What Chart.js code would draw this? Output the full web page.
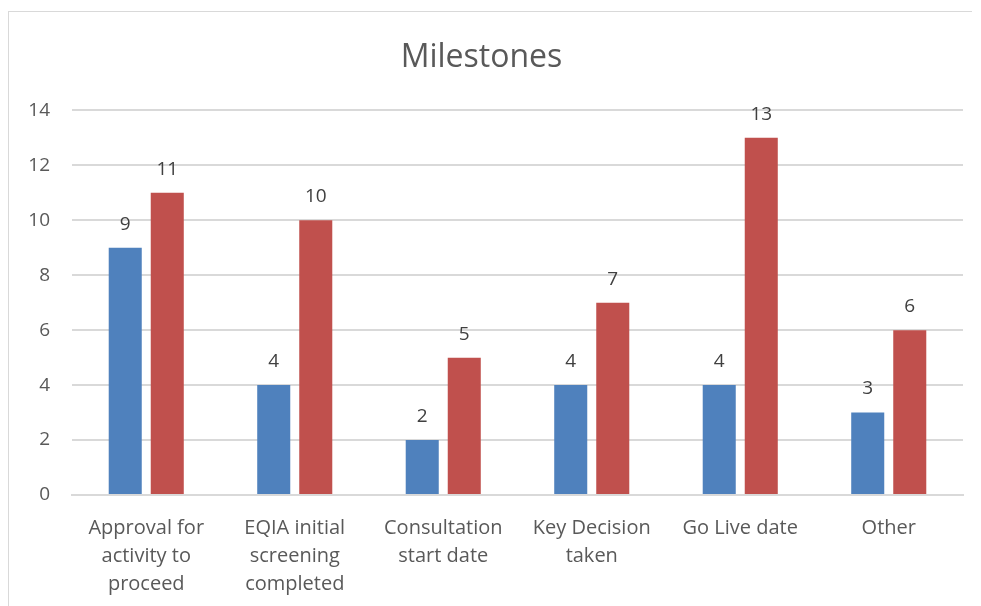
<!DOCTYPE html>
<html>
<head>
<meta charset="utf-8">
<script src="https://cdn.jsdelivr.net/npm/chart.js@4/dist/chart.umd.min.js"></script>
<style>
  html, body { margin: 0; padding: 0; background: #fff; }
  #wrap { position: relative; width: 981px; height: 606px; overflow: hidden; }
  #frame { position: absolute; left: 8px; top: 11px; width: 964px; height: 620px;
           border: 1px solid #d9d9d9; border-right: none; box-sizing: border-box; }
  canvas { position: absolute; left: 0; top: 0; }
</style>
</head>
<body>
<div id="wrap">
  <div id="frame"></div>
  <canvas id="chart" width="981" height="606"></canvas>
</div>
<script>
const FONT = "'Open Sans', 'Liberation Sans', sans-serif";
const TEXT = '#595959';

const categories = [
  ['Approval for', 'activity to', 'proceed'],
  ['EQIA initial', 'screening', 'completed'],
  ['Consultation', 'start date'],
  ['Key Decision', 'taken'],
  'Go Live date',
  'Other'
];
const seriesA = [9, 4, 2, 4, 4, 3];
const seriesB = [11, 10, 5, 7, 13, 6];
const yTicks = { min: 0, max: 14, step: 2 };

// value labels above each bar
const barLabels = {
  id: 'barLabels',
  afterDatasetsDraw(chart) {
    const ctx = chart.ctx;
    ctx.save();
    ctx.font = '19px ' + FONT;
    ctx.fillStyle = '#404040';
    ctx.textAlign = 'center';
    ctx.textBaseline = 'bottom';
    chart.data.datasets.forEach((ds, i) => {
      chart.getDatasetMeta(i).data.forEach((bar, j) => {
        ctx.fillText(ds.data[j], bar.x, bar.y - 14);
      });
    });
    ctx.restore();
  }
};

new Chart(document.getElementById('chart'), {
  type: 'bar',
  data: {
    labels: categories,
    datasets: [
      { label: 'Series 1', data: seriesA, backgroundColor: '#4F81BD',
        categoryPercentage: 0.566, barPercentage: 0.786 },
      { label: 'Series 2', data: seriesB, backgroundColor: '#C0504D',
        categoryPercentage: 0.566, barPercentage: 0.786 }
    ]
  },
  options: {
    responsive: false,
    animation: false,
    layout: { padding: { left: 0, right: 18, top: 0, bottom: 0 } },
    plugins: {
      legend: { display: false },
      tooltip: { enabled: false },
      title: {
        display: true,
        text: 'Milestones',
        color: TEXT,
        font: { family: FONT, size: 32, weight: 'normal' },
        padding: { top: 39, bottom: 33 }
      }
    },
    scales: {
      x: {
        grid: { display: false },
        border: { color: '#d9d9d9', width: 2 },
        ticks: {
          color: TEXT, padding: 11, maxRotation: 0, autoSkip: false,
          font: { family: FONT, size: 20, lineHeight: 1.4 }
        },
        afterFit(scale) { scale.height = 111; }
      },
      y: {
        min: yTicks.min, max: yTicks.max,
        grid: { color: '#d9d9d9', lineWidth: 2, drawTicks: false },
        border: { display: false },
        ticks: {
          stepSize: yTicks.step, color: TEXT, padding: 22,
          font: { family: FONT, size: 19 }
        },
        afterFit(scale) { scale.width = 72; }
      }
    }
  },
  plugins: [barLabels]
});
</script>
</body>
</html>
